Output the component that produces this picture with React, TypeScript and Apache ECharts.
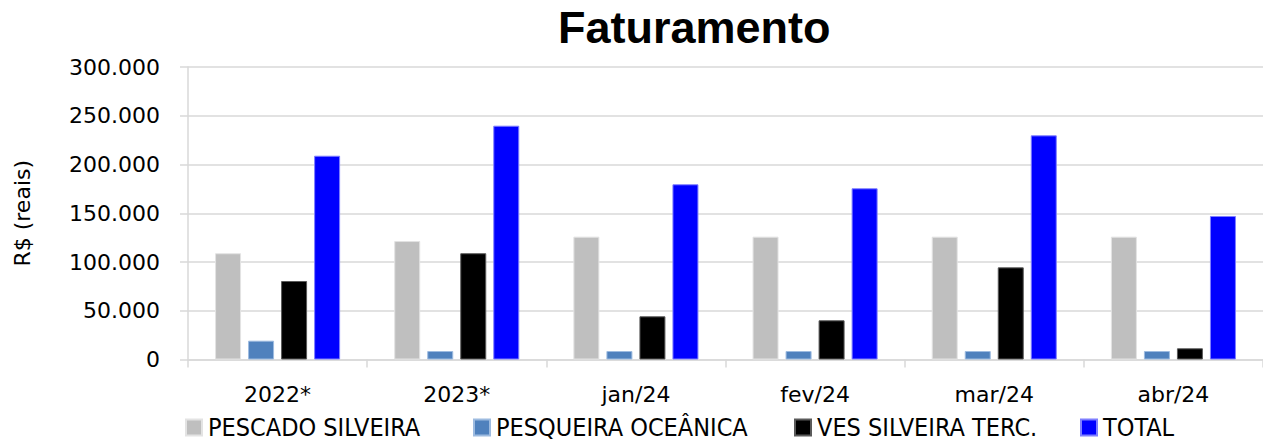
import React, { useEffect, useRef } from "react";
import * as echarts from "echarts";

const categories = ["2022*", "2023*", "jan/24", "fev/24", "mar/24", "abr/24"];
const pescadoSilveira = [109000, 121500, 126000, 126000, 126000, 126000];
const pesqueiraOceanica = [19300, 8700, 8700, 8700, 8700, 8700];
const vesSilveiraTerc = [80500, 109000, 44300, 40200, 94500, 11500];
const total = [209000, 239800, 179700, 175600, 229900, 147200];

const seriesNames = ["PESCADO SILVEIRA", "PESQUEIRA OCEÂNICA", "VES SILVEIRA TERC.", "TOTAL"];
const seriesColors = ["#BFBFBF", "#4F81BD", "#000000", "#0000FF"];
const borderColors = ["#E3E3E3", "#9DBBE0", "#5A5A5A", "#7F7FFF"];
const legendLefts = [185, 473, 794, 1080];

const fmt = (v: number) => String(v).replace(/\B(?=(\d{3})+(?!\d))/g, ".");

export default function App() {
  const ref = useRef<HTMLDivElement>(null);
  useEffect(() => {
    if (!ref.current) return;
    const chart = echarts.init(ref.current, null, { renderer: "svg" });
    const values = [pescadoSilveira, pesqueiraOceanica, vesSilveiraTerc, total];
    const legendFont = "'Liberation Sans Narrow', 'DejaVu Sans Condensed', 'Noto Sans', sans-serif";
    chart.setOption({
      animation: false,
      backgroundColor: "#ffffff",
      title: {
        text: "Faturamento",
        left: 558,
        top: 5,
        padding: 0,
        textStyle: {
          fontFamily: "'Liberation Sans', Arial, sans-serif",
          fontWeight: "bold",
          fontSize: 45,
          color: "#000000",
        },
      },
      legend: seriesNames.map((name, i) => ({
        data: [name],
        left: legendLefts[i],
        top: 415,
        padding: 0,
        itemWidth: 16,
        itemHeight: 16,
        itemGap: 0,
        icon: "rect",
        selectedMode: false,
        textStyle: { fontFamily: legendFont, fontSize: 25, color: "#000000", padding: [0, 0, 0, 1] },
      })),
      grid: { left: 188, top: 67, width: 1083, height: 292.5, containLabel: false },
      xAxis: {
        type: "category",
        data: categories,
        axisLine: { show: true, lineStyle: { color: "#D9D9D9", width: 1.5 } },
        axisTick: { show: true, length: 8, lineStyle: { color: "#D9D9D9", width: 1.5 } },
        axisLabel: {
          margin: 24,
          fontFamily: "'DejaVu Sans', sans-serif",
          fontSize: 22,
          color: "#000000",
        },
        splitLine: { show: false },
      },
      yAxis: {
        type: "value",
        min: 0,
        max: 300000,
        interval: 50000,
        name: "R$ (reais)",
        nameLocation: "middle",
        nameGap: 155,
        nameTextStyle: { fontFamily: "'DejaVu Sans', sans-serif", fontSize: 22, color: "#000000" },
        axisLine: { show: true, lineStyle: { color: "#D9D9D9", width: 1.5 } },
        axisTick: { show: true, length: 8, lineStyle: { color: "#D9D9D9", width: 1.5 } },
        axisLabel: {
          margin: 28,
          fontFamily: "'DejaVu Sans', sans-serif",
          fontSize: 22,
          color: "#000000",
          formatter: (v: number) => fmt(v),
        },
        splitLine: { show: true, lineStyle: { color: "#D9D9D9", width: 1.5 } },
      },
      series: seriesNames.map((name, i) => ({
        name,
        type: "bar",
        data: values[i],
        barWidth: 26,
        barGap: "27%",
        itemStyle: { color: seriesColors[i], borderColor: borderColors[i], borderWidth: 1 },
      })),
    });
    return () => chart.dispose();
  }, []);
  return (
    <div
      ref={ref}
      style={{ position: "absolute", left: 0, top: 0, width: 1263, height: 441 }}
    />
  );
}
